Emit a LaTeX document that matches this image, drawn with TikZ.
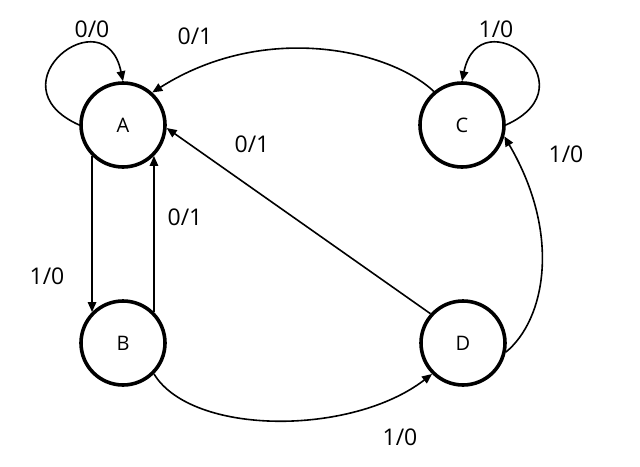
\documentclass[tikz,border=0pt]{standalone}
\usepackage{fontspec}
\setmainfont{Open Sans}
\usetikzlibrary{arrows.meta}
\begin{document}
\begin{tikzpicture}[x=1pt,y=-1pt,
  state/.style={circle,draw,line width=3.6pt,minimum size=84pt,inner sep=0pt,font=\fontsize{20}{20}\selectfont},
  conn/.style={line width=1.6pt,-{Triangle[length=10pt,width=8.5pt]}},
  lbl/.style={font=\fontsize{23}{23}\selectfont,inner sep=0pt}]
\useasboundingbox (0,0) rectangle (640,466);
\node[state] (A) at (123,125) {A};
\node[state] (C) at (462,125) {C};
\node[state] (B) at (123,343) {B};
\node[state] (D) at (463,343) {D};
% self loop A
\draw[conn] (A.180) .. controls (-10,85) and (105,-5) .. (A.90);
\node[lbl] (l1) at (92,29) {0/0};
% self loop C
\draw[conn] (C.0) .. controls (595,85) and (480,-5) .. (C.90);
\node[lbl] (l2) at (496,29) {1/0};
% C -> A
\draw[conn] (C.130) .. controls (390,50) and (265,21) .. (A.48);
\node[lbl] (l3) at (195,36) {0/1};
% D -> A
\draw[conn] (D.138) -- (A.-4);
\node[lbl] (l4) at (252,144) {0/1};
% D -> C
\draw[conn] (D.-12) .. controls (545,320) and (562,235) .. (C.-15);
\node[lbl] (l5) at (566,154) {1/0};
% A -> B
\draw[conn] (A.-135) -- (A.-135 |- B.135);
\node[lbl] (l6) at (47,276) {1/0};
% B -> A
\draw[conn] (B.45) -- (B.45 |- A.-45);
\node[lbl] (l7) at (185,217) {0/1};
% B -> D
\draw[conn] (B.-45) .. controls (192,436) and (352,436) .. (D.-135);
\node[lbl] (l8) at (400,437) {1/0};
\end{tikzpicture}
\end{document}
